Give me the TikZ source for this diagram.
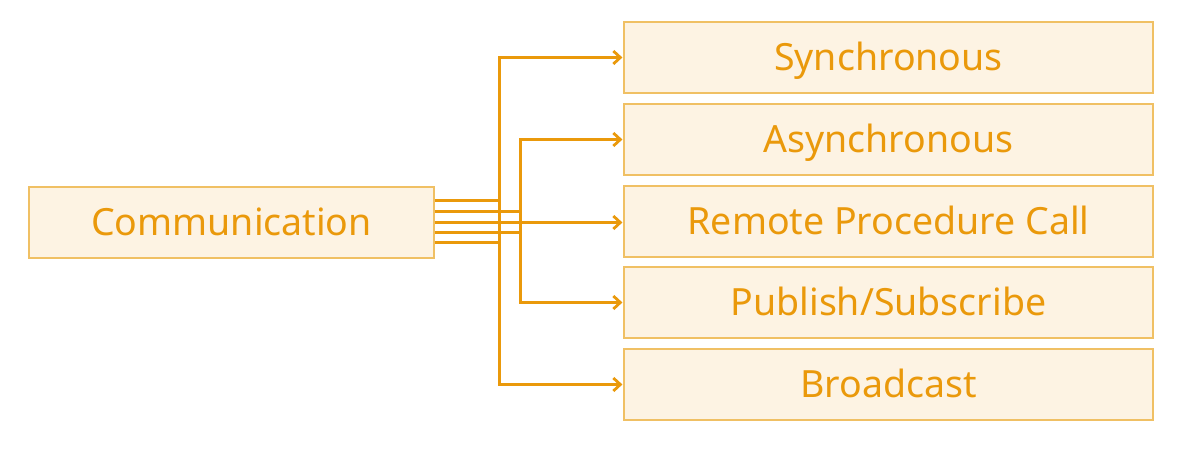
\documentclass[tikz,border=0pt]{standalone}
\usepackage{fontspec}
\setmainfont{Noto Sans}
\usetikzlibrary{arrows.meta}
\definecolor{org}{HTML}{EA990B}
\definecolor{boxfill}{HTML}{FDF3E3}
\definecolor{boxline}{HTML}{F0C064}
\tikzset{
  box/.style={draw=boxline, fill=boxfill, line width=1.2pt, inner sep=0pt, text=org,
    font=\fontsize{37.5}{44}\selectfont, text height=26.8pt, text depth=0pt},
  conn/.style={draw=org, line width=3pt, -{Straight Barb[length=7pt,width=13pt,line width=2.8pt]}}
}
\begin{document}
\begin{tikzpicture}[x=1pt,y=-1pt]
\useasboundingbox (0,0) rectangle (1203,457);
\node[box, minimum width=405pt, minimum height=71pt] (comm) at (231.5,222.5) {Communication};
\node[box, minimum width=529pt, minimum height=71pt] (s1) at (888.5,57.5) {Synchronous};
\node[box, minimum width=529pt, minimum height=71pt] (s2) at (888.5,139.5) {Asynchronous};
\node[box, minimum width=529pt, minimum height=71pt] (s3) at (888.5,221.5) {Remote Procedure Call};
\node[box, minimum width=529pt, minimum height=71pt] (s4) at (888.5,302.5) {Publish/Subscribe};
\node[box, minimum width=529pt, minimum height=71pt] (s5) at (888.5,384.5) {Broadcast};
\draw[conn] ([yshift=-20.5pt]comm.east) -| (499,57.5) -- ([xshift=-1pt]s1.west);
\draw[conn] ([yshift=-10pt]comm.east) -| (520,139.5) -- ([xshift=-1pt]s2.west);
\draw[conn] ([yshift=0pt]comm.east) -- ([xshift=-1pt]s3.west |- comm.east);
\draw[conn] ([yshift=11pt]comm.east) -| (520,302.5) -- ([xshift=-1pt]s4.west);
\draw[conn] ([yshift=21.5pt]comm.east) -| (499,384.5) -- ([xshift=-1pt]s5.west);
\end{tikzpicture}
\end{document}
